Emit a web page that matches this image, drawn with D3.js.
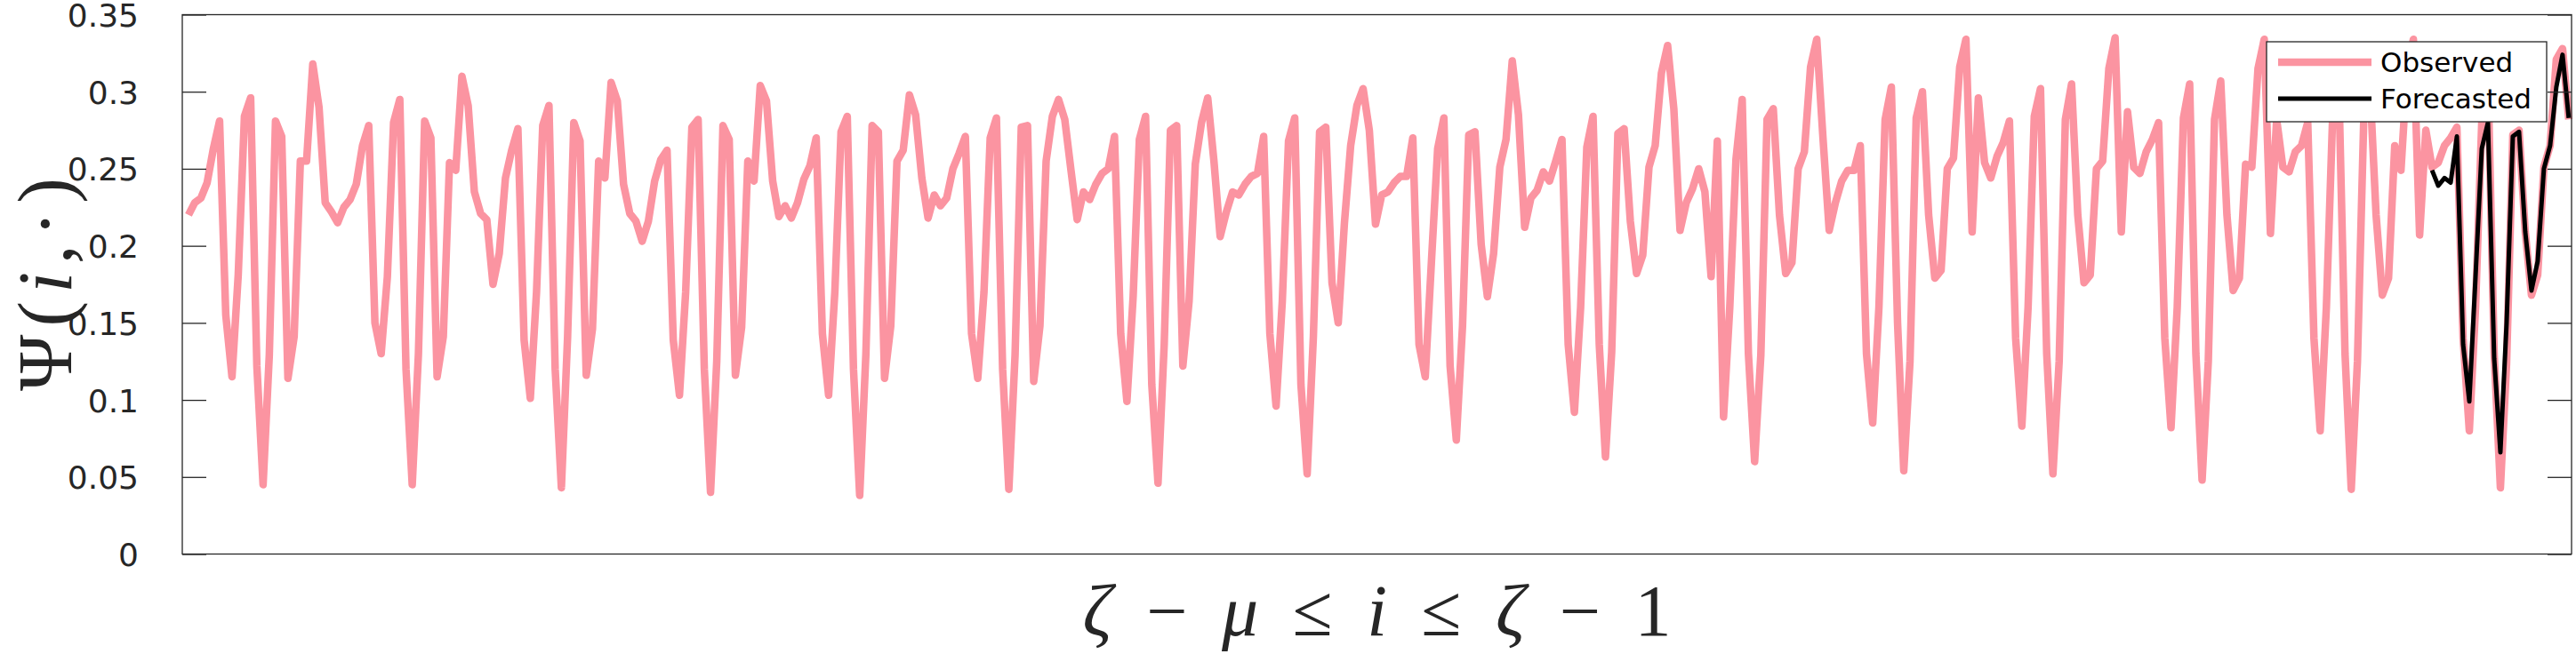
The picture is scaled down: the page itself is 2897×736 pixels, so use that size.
<!DOCTYPE html>
<html>
<head>
<meta charset="utf-8">
<script src="https://cdn.jsdelivr.net/npm/d3@7"></script>
<style>
  body { margin: 0; background: #fff; }
  svg { display: block; }
</style>
</head>
<body>
<div id="chart"></div>
<script>
// Observed series, one value per step (16 blocks of 24)
const observed = [
  0.220, 0.228, 0.231, 0.241, 0.263, 0.281, 0.155, 0.115, 0.181, 0.284, 0.296, 0.122, 0.045, 0.129, 0.281, 0.271, 0.114, 0.141, 0.255, 0.255, 0.318, 0.290, 0.228, 0.222,
  0.215, 0.225, 0.230, 0.240, 0.265, 0.278, 0.150, 0.130, 0.180, 0.280, 0.295, 0.120, 0.045, 0.130, 0.281, 0.270, 0.115, 0.141, 0.254, 0.249, 0.310, 0.291, 0.235, 0.221,
  0.217, 0.175, 0.195, 0.244, 0.262, 0.276, 0.139, 0.101, 0.170, 0.278, 0.291, 0.120, 0.043, 0.141, 0.280, 0.268, 0.116, 0.146, 0.255, 0.244, 0.306, 0.294, 0.240, 0.221,
  0.216, 0.203, 0.216, 0.242, 0.256, 0.262, 0.139, 0.103, 0.170, 0.277, 0.282, 0.120, 0.040, 0.125, 0.278, 0.269, 0.116, 0.147, 0.255, 0.242, 0.304, 0.294, 0.242, 0.219,
  0.226, 0.218, 0.228, 0.243, 0.252, 0.270, 0.143, 0.103, 0.170, 0.274, 0.284, 0.120, 0.038, 0.130, 0.278, 0.274, 0.114, 0.148, 0.255, 0.262, 0.298, 0.285, 0.244, 0.218,
  0.233, 0.226, 0.231, 0.250, 0.260, 0.271, 0.143, 0.114, 0.170, 0.270, 0.283, 0.120, 0.042, 0.129, 0.277, 0.278, 0.112, 0.148, 0.255, 0.284, 0.295, 0.282, 0.249, 0.217,
  0.235, 0.230, 0.240, 0.247, 0.250, 0.271, 0.143, 0.099, 0.167, 0.269, 0.284, 0.110, 0.046, 0.136, 0.275, 0.278, 0.122, 0.164, 0.253, 0.280, 0.296, 0.255, 0.206, 0.222,
  0.235, 0.233, 0.240, 0.245, 0.247, 0.271, 0.143, 0.096, 0.164, 0.268, 0.283, 0.110, 0.052, 0.141, 0.274, 0.277, 0.176, 0.150, 0.215, 0.265, 0.291, 0.302, 0.275, 0.214,
  0.233, 0.235, 0.241, 0.245, 0.245, 0.270, 0.136, 0.115, 0.190, 0.263, 0.283, 0.122, 0.074, 0.148, 0.272, 0.274, 0.201, 0.167, 0.195, 0.251, 0.269, 0.320, 0.285, 0.212,
  0.231, 0.236, 0.248, 0.242, 0.255, 0.269, 0.136, 0.092, 0.160, 0.264, 0.284, 0.136, 0.063, 0.131, 0.273, 0.276, 0.216, 0.182, 0.194, 0.251, 0.265, 0.312, 0.330, 0.289,
  0.210, 0.228, 0.237, 0.250, 0.235, 0.180, 0.268, 0.089, 0.160, 0.256, 0.295, 0.130, 0.060, 0.129, 0.282, 0.289, 0.220, 0.182, 0.189, 0.250, 0.261, 0.316, 0.334, 0.270,
  0.210, 0.228, 0.242, 0.249, 0.249, 0.265, 0.130, 0.085, 0.160, 0.282, 0.303, 0.150, 0.054, 0.125, 0.283, 0.300, 0.220, 0.179, 0.184, 0.250, 0.257, 0.316, 0.334, 0.209,
  0.296, 0.254, 0.244, 0.258, 0.267, 0.281, 0.140, 0.083, 0.160, 0.284, 0.302, 0.130, 0.052, 0.125, 0.282, 0.305, 0.220, 0.176, 0.181, 0.250, 0.255, 0.315, 0.335, 0.209,
  0.287, 0.251, 0.247, 0.261, 0.269, 0.280, 0.140, 0.082, 0.160, 0.283, 0.305, 0.130, 0.048, 0.125, 0.282, 0.307, 0.220, 0.171, 0.179, 0.253, 0.251, 0.315, 0.334, 0.208,
  0.282, 0.251, 0.248, 0.261, 0.265, 0.280, 0.140, 0.080, 0.160, 0.283, 0.305, 0.130, 0.042, 0.125, 0.280, 0.305, 0.220, 0.168, 0.179, 0.265, 0.249, 0.315, 0.334, 0.207,
  0.275, 0.251, 0.254, 0.265, 0.270, 0.277, 0.140, 0.080, 0.160, 0.280, 0.310, 0.130, 0.043, 0.124, 0.272, 0.275, 0.209, 0.168, 0.181, 0.251, 0.265, 0.321, 0.328, 0.282
];

// Forecast covers the last steps, starting at step 362
const forecastStart = 362;
const forecast = [
  0.249, 0.239, 0.244, 0.241, 0.271, 0.136, 0.099, 0.180, 0.263, 0.280, 0.127, 0.066,
  0.150, 0.271, 0.274, 0.209, 0.171, 0.190, 0.250, 0.265, 0.303, 0.324, 0.283
];

const yTicks = [0, 0.05, 0.1, 0.15, 0.2, 0.25, 0.3, 0.35];
const yTickLabels = ['0', '0.05', '0.1', '0.15', '0.2', '0.25', '0.3', '0.35'];
const seriesNames = ['Observed', 'Forecasted'];

const width = 2897, height = 736;
const plot = { left: 205, right: 2892, top: 16.5, bottom: 623.5 };
const axisColor = '#262626';
const pink = '#fb94a1';

const svg = d3.select('#chart').append('svg')
  .attr('width', width)
  .attr('height', height)
  .attr('viewBox', [0, 0, width, height]);

const x = d3.scaleLinear().domain([0, 384.45]).range([plot.left, plot.right]);
const y = d3.scaleLinear().domain([0, 0.35]).range([plot.bottom, plot.top]);

const line = d3.line()
  .x(d => x(d.i))
  .y(d => y(d.v));

const obsPts = observed.map((v, k) => ({ i: k + 1, v }));
const fcPts = forecast.map((v, k) => ({ i: forecastStart + k, v }));

// series
svg.append('path')
  .datum(obsPts)
  .attr('d', line)
  .attr('fill', 'none')
  .attr('stroke', pink)
  .attr('stroke-width', 8.5)
  .attr('stroke-linejoin', 'round');

svg.append('path')
  .datum(fcPts)
  .attr('d', line)
  .attr('fill', 'none')
  .attr('stroke', '#000')
  .attr('stroke-width', 5)
  .attr('stroke-linejoin', 'round');

// axes box with inward ticks on both sides
const tickLen = 27;
const leftAxis = d3.axisLeft(y).tickValues(yTicks).tickSize(-tickLen).tickPadding(22 + tickLen)
  .tickFormat((d, k) => yTickLabels[k]);
const rightAxis = d3.axisRight(y).tickValues(yTicks).tickSize(-tickLen).tickFormat('');

const gl = svg.append('g').attr('transform', `translate(${plot.left},0)`).call(leftAxis);
const gr = svg.append('g').attr('transform', `translate(${plot.right},0)`).call(rightAxis);

[gl, gr].forEach(g => {
  g.select('.domain').remove();
  g.selectAll('.tick line').attr('stroke', axisColor).attr('stroke-width', 1.3);
});
gl.selectAll('.tick text')
  .attr('fill', axisColor)
  .attr('dy', '0.36em')
  .style('font-family', '"DejaVu Sans", sans-serif')
  .style('font-size', '36px');

svg.append('rect')
  .attr('x', plot.left)
  .attr('y', plot.top)
  .attr('width', plot.right - plot.left)
  .attr('height', plot.bottom - plot.top)
  .attr('fill', 'none')
  .attr('stroke', axisColor)
  .attr('stroke-width', 1.3);

// legend
const legend = svg.append('g').attr('transform', 'translate(2549,47)');
legend.append('rect')
  .attr('width', 315).attr('height', 90)
  .attr('fill', '#fff')
  .attr('stroke', axisColor)
  .attr('stroke-width', 1.3);

const legendRows = [
  { name: seriesNames[0], color: pink, w: 8.5, cy: 23 },
  { name: seriesNames[1], color: '#000', w: 5, cy: 64 }
];
legendRows.forEach(r => {
  legend.append('line')
    .attr('x1', 13).attr('x2', 118)
    .attr('y1', r.cy).attr('y2', r.cy)
    .attr('stroke', r.color)
    .attr('stroke-width', r.w);
  legend.append('text')
    .attr('x', 128).attr('y', r.cy + 11)
    .attr('fill', '#000')
    .style('font-family', '"DejaVu Sans", sans-serif')
    .style('font-size', '31px')
    .text(r.name);
});

// axis labels (math)
const serif = '"Liberation Serif", "DejaVu Serif", serif';
const ylab = svg.append('text')
  .attr('transform', `translate(80,${(plot.top + plot.bottom) / 2}) rotate(-90)`)
  .attr('text-anchor', 'middle')
  .attr('textLength', 240)
  .attr('lengthAdjust', 'spacing')
  .attr('fill', axisColor)
  .style('font-family', serif)
  .style('font-size', '86px');
ylab.append('tspan').text('Ψ');
ylab.append('tspan').text('(');
ylab.append('tspan').style('font-style', 'italic').text('i');
ylab.append('tspan').text(',');
ylab.append('tspan').text('·');
ylab.append('tspan').text(')');

svg.append('text')
  .attr('x', (plot.left + plot.right) / 2)
  .attr('y', 715)
  .attr('text-anchor', 'middle')
  .attr('fill', axisColor)
  .style('font-family', serif)
  .style('font-size', '82px')
  .style('word-spacing', '18px')
  .html('<tspan font-style="italic">ζ</tspan> − <tspan font-style="italic">μ</tspan> ≤ <tspan font-style="italic">i</tspan> ≤ <tspan font-style="italic">ζ</tspan> − 1');
</script>
</body>
</html>
